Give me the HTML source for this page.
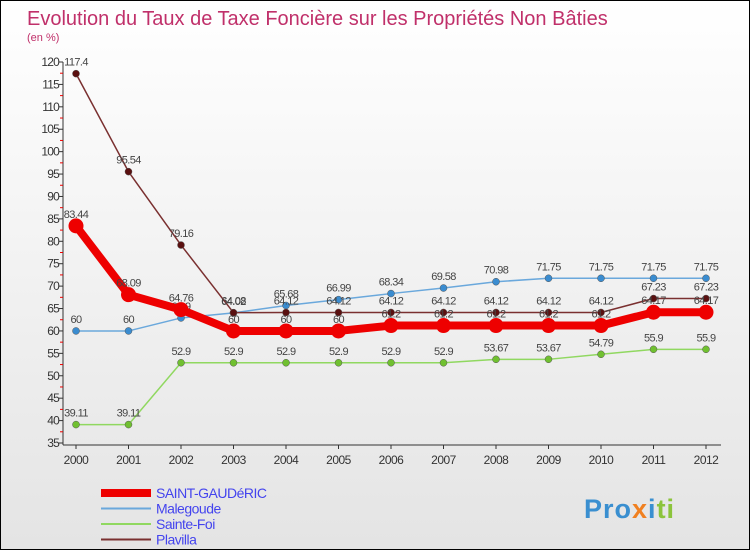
<!DOCTYPE html>
<html><head><meta charset="utf-8"><style>
body{margin:0}
#c{width:748px;height:548px;border:1px solid #000;background:linear-gradient(#fff,#e4e4e4);position:relative;font-family:"Liberation Sans",sans-serif;overflow:hidden}
</style></head><body>
<div id="c">
<svg id="s" width="748" height="548" xmlns="http://www.w3.org/2000/svg">
<text x="26" y="24" font-size="20" fill="#c0306a">Evolution du Taux de Taxe Foncière sur les Propriétés Non Bâties</text>
<text x="26" y="40" font-size="11" fill="#c0306a">(en %)</text>
<g id="axes"></g><g id="series"></g><g id="legend"></g>
<g><text x="583" y="517" font-size="27" font-weight="bold" fill="#3a8fd0" letter-spacing="1">Pro<tspan fill="#f08020">x</tspan><tspan fill="#3a8fd0">i</tspan><tspan fill="#8cc43c">ti</tspan></text></g>
</svg></div>
<script>
const years=[2000,2001,2002,2003,2004,2005,2006,2007,2008,2009,2010,2011,2012];
const yTicks=[35,40,45,50,55,60,65,70,75,80,85,90,95,100,105,110,115,120];
const seriesNames=["SAINT-GAUDéRIC","Malegoude","Sainte-Foi","Plavilla"];
const saintGauderic=[83.44,68.09,64.76,60,60,60,61.2,61.2,61.2,61.2,61.2,64.17,64.17];
const malegoude=[60,60,62.9,64.02,65.68,66.99,68.34,69.58,70.98,71.75,71.75,71.75,71.75];
const sainteFoi=[39.11,39.11,52.9,52.9,52.9,52.9,52.9,52.9,53.67,53.67,54.79,55.9,55.9];
const plavilla=[117.4,95.54,79.16,64.08,64.12,64.12,64.12,64.12,64.12,64.12,64.12,67.23,67.23];
const NS="http://www.w3.org/2000/svg";
const X=i=>75+i*52.5, Y=v=>442-(v-35)*(381/85);
function mk(tag,at,par){const e=document.createElementNS(NS,tag);for(const k in at)e.setAttribute(k,at[k]);par.appendChild(e);return e;}
const axes=document.getElementById('axes'),ser=document.getElementById('series'),leg=document.getElementById('legend');
let a=mk('line',{x1:62,y1:Y(120),x2:62,y2:Y(35)+2,stroke:'#333'},axes);

a=mk('line',{x1:62,y1:Y(35)+2,x2:720,y2:Y(35)+2,stroke:'#333'},axes);

yTicks.forEach(v=>{const y=Y(v);mk('line',{x1:58,y1:y,x2:62,y2:y,stroke:'#333'},axes);
 if(v<120)mk('line',{x1:59,y1:Y(v+2.5),x2:62,y2:Y(v+2.5),stroke:'#e00'},axes);
 const t=mk('text',{x:58,y:y+4,'font-size':12,'text-anchor':'end',fill:'#333','letter-spacing':'-0.8'},axes);t.textContent=v;
 });
years.forEach((yr,i)=>{mk('line',{x1:X(i),y1:Y(35)+2,x2:X(i),y2:Y(35)+6,stroke:'#333'},axes);
 const t=mk('text',{x:X(i),y:463,'font-size':12,'text-anchor':'middle',fill:'#333','letter-spacing':'-0.5'},axes);t.textContent=yr;
 });
function draw(vals,color,lw,r,fill,name){
 const g=mk('g',{},ser);
 mk('polyline',{points:vals.map((v,i)=>X(i)+','+Y(v)).join(' '),fill:'none',stroke:color,'stroke-width':lw,'stroke-linejoin':'round'},g);
 vals.forEach((v,i)=>{const c=mk('circle',{cx:X(i),cy:Y(v),r:r,fill:fill,stroke:lw>3?'none':'#555','stroke-width':0.5},g);
  
  const t=mk('text',{x:X(i),y:Y(v)-8,'font-size':11,'text-anchor':'middle',fill:'#444','letter-spacing':'-0.6'},g);t.textContent=String(v);
  });
}
draw(sainteFoi,'#90d860',1.5,3.5,'#70c030','sainte-foi');
draw(malegoude,'#6aa8dc',1.5,3.5,'#3a8cd0','malegoude');
draw(plavilla,'#7a3030',1.5,3.5,'#5a1010','plavilla');
draw(saintGauderic,'#ee0000',8,7.5,'#ee0000','saint-gauderic');
const cols=['#ee0000','#6aa8dc','#90d860','#7a3030'],lws=[8,2,2,2];
seriesNames.forEach((n,i)=>{const y=492+i*15.5;
 const g=mk('g',{},leg);
 mk('line',{x1:100,y1:y,x2:150,y2:y,stroke:cols[i],'stroke-width':lws[i]},g);
 const t=mk('text',{x:155,y:y+5,'font-size':14,fill:'#4444ee','letter-spacing':'-0.5'},g);t.textContent=n;});
</script></body></html>
